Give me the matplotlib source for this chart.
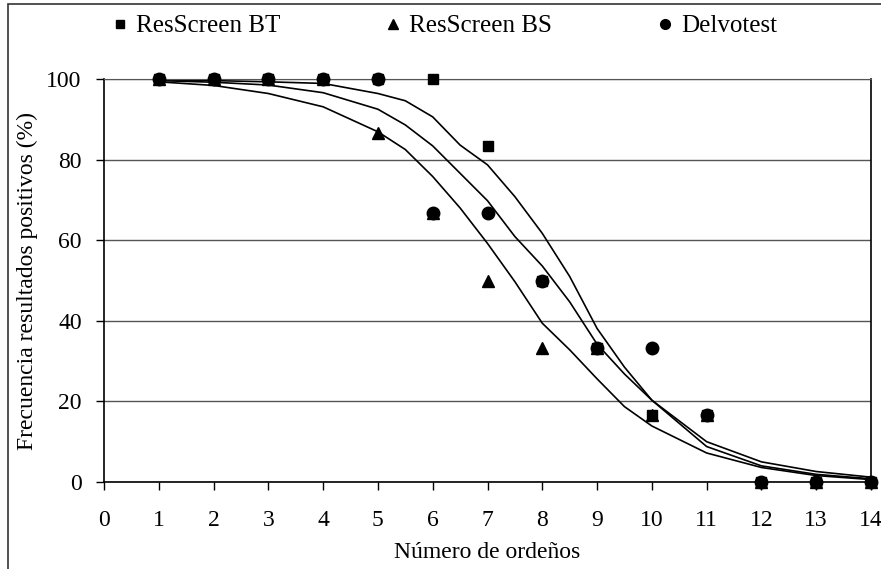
import matplotlib
matplotlib.use("Agg")
import matplotlib.pyplot as plt
from matplotlib.lines import Line2D
from matplotlib.patches import Rectangle

plt.rcParams['font.family'] = ['Liberation Serif', 'DejaVu Serif']
plt.rcParams['font.size'] = 17

# número de ordeños y frecuencia de positivos por método
ordenos = [1, 2, 3, 4, 5, 6, 7, 8, 9, 10, 11, 12, 13, 14]
bt = [100, 100, 100, 100, 100, 100, 83.3, 50, 33.3, 16.7, 16.7, 0, 0, 0]
bs = [100, 100, 100, 100, 86.7, 66.7, 50, 33.3, 33.3, 16.7, 16.7, 0, 0, 0]
delvo = [100, 100, 100, 100, 100, 66.7, 66.7, 50, 33.3, 33.3, 16.7, 0, 0, 0]

x_fit = [1, 2, 3, 4, 5, 5.5, 6, 6.5, 7, 7.5, 8, 8.5, 9, 9.5, 10, 11, 12, 13, 14]
fit_bt = [99.8, 99.6, 99.3, 98.9, 96.4, 94.6, 90.6, 83.6, 78.7, 70.8, 61.7,
          51.0, 38.1, 28.5, 20.3, 8.8, 4.0, 1.9, 0.8]
fit_delvo = [99.6, 99.2, 98.5, 96.6, 92.5, 88.6, 83.4, 76.6, 69.8, 60.9, 53.6,
             44.7, 34.2, 26.8, 20.3, 10.0, 5.0, 2.6, 1.2]
fit_bs = [99.3, 98.4, 96.4, 93.1, 86.9, 82.5, 75.8, 68.0, 59.2, 49.7, 39.4,
          32.8, 25.6, 18.7, 13.9, 7.2, 3.6, 1.6, 0.6]

fig = plt.figure(figsize=(8.81, 5.69), dpi=100)
ax = fig.add_axes([104/881, 1 - 482/569, (871-104)/881, (482-79)/569])

for fit in (fit_bt, fit_delvo, fit_bs):
    ax.plot(x_fit, fit, color='black', lw=1.2)

ax.plot(ordenos, bt, 's', color='black', ms=7, clip_on=False, zorder=3)
ax.plot(ordenos, bs, '^', color='black', ms=8, clip_on=False, zorder=4)
ax.plot(ordenos, delvo, 'o', color='black', ms=9, clip_on=False, zorder=5)

ax.set_xlim(0, 14)
ax.set_ylim(0, 100)
ax.set_xticks(range(0, 15))
ax.set_yticks(range(0, 101, 20))
ax.yaxis.grid(True, color='#555555', lw=1.0)
ax.set_axisbelow(True)
ax.tick_params(axis='both', direction='out', length=6, width=1, labelsize=17,
               colors='black')
ax.tick_params(axis='y', pad=10)
ax.tick_params(axis='x', pad=14)
ax.spines['top'].set_color('#555555')
for side in ('left', 'right', 'bottom'):
    ax.spines[side].set_linewidth(1.2)

ax.set_xlabel('Número de ordeños', fontsize=17, labelpad=8)
ax.set_ylabel('Frecuencia resultados positivos (%)', fontsize=17, labelpad=6)

handles = [
    Line2D([], [], ls='none', marker='s', color='black', ms=5.5),
    Line2D([], [], ls='none', marker='^', color='black', ms=6.5),
    Line2D([], [], ls='none', marker='o', color='black', ms=7),
]
fig.legend(handles, ['ResScreen BT', 'ResScreen BS', 'Delvotest'], ncol=3,
           loc='center left', bbox_to_anchor=(110/881, 1 - 26/569),
           frameon=False, handlelength=0.8, handletextpad=0.25,
           columnspacing=4.1, fontsize=18, borderpad=0, borderaxespad=0)

# marco exterior del gráfico
fig.patches.append(Rectangle((8/881, -0.05), 1.2, 1 - 4/569 + 0.05,
                             transform=fig.transFigure, fill=False,
                             edgecolor='#333333', lw=1.2))

fig.savefig('out.png', dpi=100)
